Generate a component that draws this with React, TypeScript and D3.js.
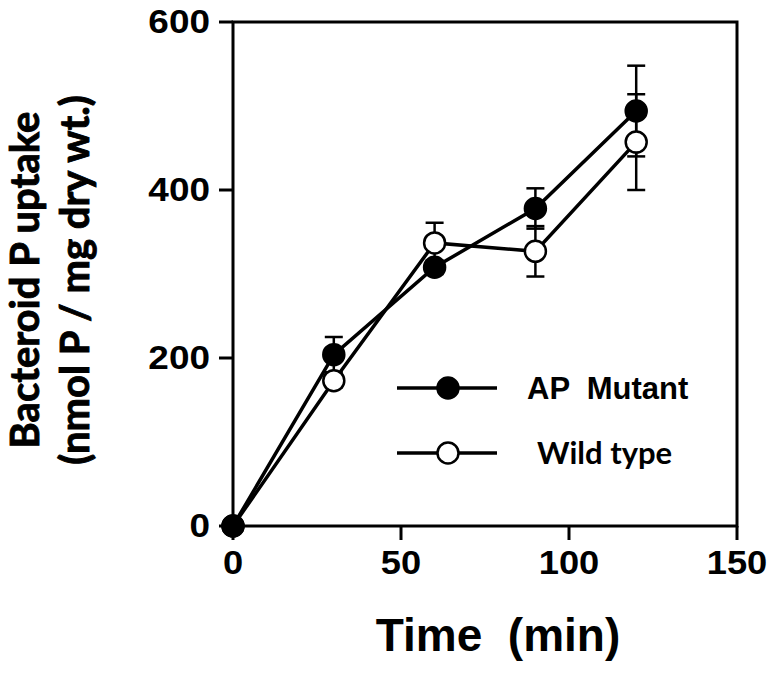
import React from 'react';
import * as d3 from 'd3';

const times = [0, 30, 60, 90, 120];
const mutant = [0, 204, 308, 378, 494];
const mutantErr = [0, 21, 8, 24, 54];
const wild = [0, 173, 337, 327, 457];
const wildErr = [0, 8, 24, 30, 57];
const xTicks = [0, 50, 100, 150];
const yTicks = [0, 200, 400, 600];

const W = 774;
const H = 673;
const margin = { top: 22, right: 37, bottom: 147, left: 233 };
const arial = 'Liberation Sans, Arial, sans-serif';
const calibri = 'Lato, Open Sans, sans-serif';

export default function App() {
  const x = d3.scaleLinear().domain([0, 150]).range([margin.left, W - margin.right]);
  const y = d3.scaleLinear().domain([0, 600]).range([H - margin.bottom, margin.top]);

  // wild type drawn first so the filled markers sit on top
  const series = [
    { name: 'Wild type', vals: wild, errs: wildErr, fill: '#fff', font: calibri, size: 31, textX: 537, legY: 453 },
    { name: 'AP  Mutant', vals: mutant, errs: mutantErr, fill: '#000', font: arial, size: 31, textX: 527, legY: 388 },
  ];

  const line = d3.line<number>()
    .x((_, i) => x(times[i]))
    .y(d => y(d));

  const x0 = x(0), x1 = x(150), y0 = y(0), y1 = y(600);
  const tick = 14;
  const r = 10.5;
  const legX = 397;

  return (
    <svg width={W} height={H} style={{ position: 'absolute', left: 0, top: 0, background: '#fff' }}>
      {/* frame */}
      <rect x={x0} y={y1} width={x1 - x0} height={y0 - y1} fill="none" stroke="#000" strokeWidth={3} />

      {/* y axis */}
      {yTicks.map(t => (
        <g key={'y' + t}>
          <line x1={x0 - tick} x2={x0} y1={y(t)} y2={y(t)} stroke="#000" strokeWidth={3} />
          <text transform={`translate(${x0 - tick - 9},${y(t)}) scale(1.12,1)`} dy="0.33em" textAnchor="end"
            fontFamily={arial} fontWeight="bold" fontSize={33}>{t}</text>
        </g>
      ))}

      {/* x axis */}
      {xTicks.map(t => (
        <g key={'x' + t}>
          <line x1={x(t)} x2={x(t)} y1={y0} y2={y0 + tick} stroke="#000" strokeWidth={3} />
          <text transform={`translate(${x(t)},${y0 + 48}) scale(1.1,1)`} textAnchor="middle"
            fontFamily={arial} fontWeight="bold" fontSize={33}>{t}</text>
        </g>
      ))}

      <text x={498} y={651} textAnchor="middle" fontFamily={arial}
        fontWeight="bold" fontSize={46} style={{ whiteSpace: 'pre' }}>{'Time  (min)'}</text>

      <g transform="translate(39,280) rotate(-90)" fontFamily={calibri} fontWeight="bold" fontSize={40}
        stroke="#000" strokeWidth={0.9}>
        <text x={0} y={0} textAnchor="middle">Bacteroid P uptake</text>
        <text x={0} y={50} textAnchor="middle">(nmol P / mg dry wt.)</text>
      </g>

      {/* error bars */}
      {series.map(s => (
        <g key={'e' + s.name} stroke="#000" strokeWidth={2.5}>
          {s.vals.map((v, i) => s.errs[i] > 0 && (
            <g key={i}>
              <line x1={x(times[i])} x2={x(times[i])} y1={y(v - s.errs[i])} y2={y(v + s.errs[i])} />
              <line x1={x(times[i]) - 9} x2={x(times[i]) + 9} y1={y(v + s.errs[i])} y2={y(v + s.errs[i])} />
              <line x1={x(times[i]) - 9} x2={x(times[i]) + 9} y1={y(v - s.errs[i])} y2={y(v - s.errs[i])} />
            </g>
          ))}
        </g>
      ))}

      {/* lines */}
      {series.map(s => (
        <path key={'l' + s.name} d={line(s.vals) || ''} fill="none" stroke="#000" strokeWidth={3.5} />
      ))}

      {/* markers */}
      {series.map(s => (
        <g key={'m' + s.name}>
          {s.vals.map((v, i) => (
            <circle key={i} cx={x(times[i])} cy={y(v)} r={r} fill={s.fill} stroke="#000" strokeWidth={2.5} />
          ))}
        </g>
      ))}

      {/* legend */}
      {series.map(s => (
        <g key={'lg' + s.name}>
          <line x1={legX} x2={legX + 100} y1={s.legY} y2={s.legY} stroke="#000" strokeWidth={3.5} />
          <circle cx={legX + 51} cy={s.legY} r={r} fill={s.fill} stroke="#000" strokeWidth={2.5} />
          <text x={s.textX} y={s.legY} dy="0.36em" fontFamily={s.font} fontWeight="bold"
            fontSize={s.size} style={{ whiteSpace: 'pre' }}>{s.name}</text>
        </g>
      ))}
    </svg>
  );
}
